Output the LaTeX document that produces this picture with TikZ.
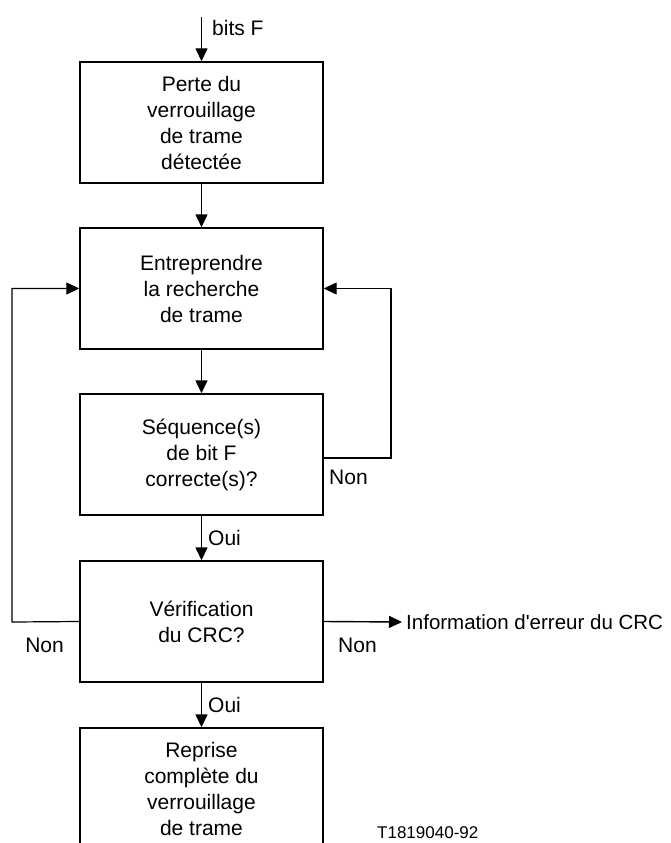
\documentclass[tikz,border=0pt]{standalone}
\usepackage{fontspec}
\setmainfont{Liberation Sans}
\usetikzlibrary{arrows.meta}
\begin{document}
\begin{tikzpicture}[x=1pt,y=-1pt,
  box/.style={draw, line width=1.4pt, minimum width=243pt, minimum height=121pt,
    inner sep=0pt, align=center, font=\fontsize{21}{26}\selectfont},
  lbl/.style={inner sep=0pt, font=\fontsize{21}{24}\selectfont},
  conn/.style={line width=1.4pt, -{Triangle[length=13pt,width=12pt]}},
  loopline/.style={line width=1.2pt, -{Triangle[length=13pt,width=12pt]}}
]
\fill[white] (0,0) rectangle (671,843);
\begin{scope}
\clip (0,0) rectangle (671,843);
\node[box] (b1) at (201.5,122.5) {Perte du\\verrouillage\\de trame\\détectée};
\node[box] (b2) at (201.5,288.5) {Entreprendre\\la recherche\\de trame};
\node[box] (b3) at (201.5,454.5) {Séquence(s)\\de bit F\\correcte(s)?};
\node[box] (b4) at (201.5,621.5) {Vérification\\du CRC?};
\node[box] (b5) at (201.5,788.5) {Reprise\\complète du\\verrouillage\\de trame};

\coordinate (in) at (201.5,17);
\coordinate (rloop) at (391,458);
\coordinate (lloop) at (12,622);
\coordinate (info) at (402,622);

\draw[conn] (in) -- (b1.north);
\draw[conn] (b1.south) -- (b2.north);
\draw[conn] (b2.south) -- (b3.north);
\draw[conn] (b3.south) -- (b4.north);
\draw[conn] (b4.south) -- (b5.north);

\draw[loopline] ([yshift=-3.5pt]b3.east) -- (rloop) |- (b2.east);
\draw[loopline] (b4.west) -- (lloop) |- (b2.west);
\draw[conn] (b4.east) -- (info);

\node[lbl, anchor=west] (bitsF) at (212,28) {bits F};
\node[lbl, anchor=west] (non1) at (329,477) {Non};
\node[lbl, anchor=west] (oui1) at (208,538) {Oui};
\node[lbl, anchor=west] (non2) at (338,645) {Non};
\node[lbl, anchor=east] (non3) at (64,645) {Non};
\node[lbl, anchor=west] (oui2) at (208,705) {Oui};
\node[lbl, anchor=west, font=\fontsize{20.5}{24}\selectfont] (infotext) at (406,622) {Information d\textquotesingle erreur du CRC};
\node[inner sep=0pt, anchor=west, font=\fontsize{17}{20}\selectfont] (ref) at (377,833) {T1819040-92};
\end{scope}
\pgfresetboundingbox
\useasboundingbox (0,0) rectangle (671,843);
\end{tikzpicture}
\end{document}
